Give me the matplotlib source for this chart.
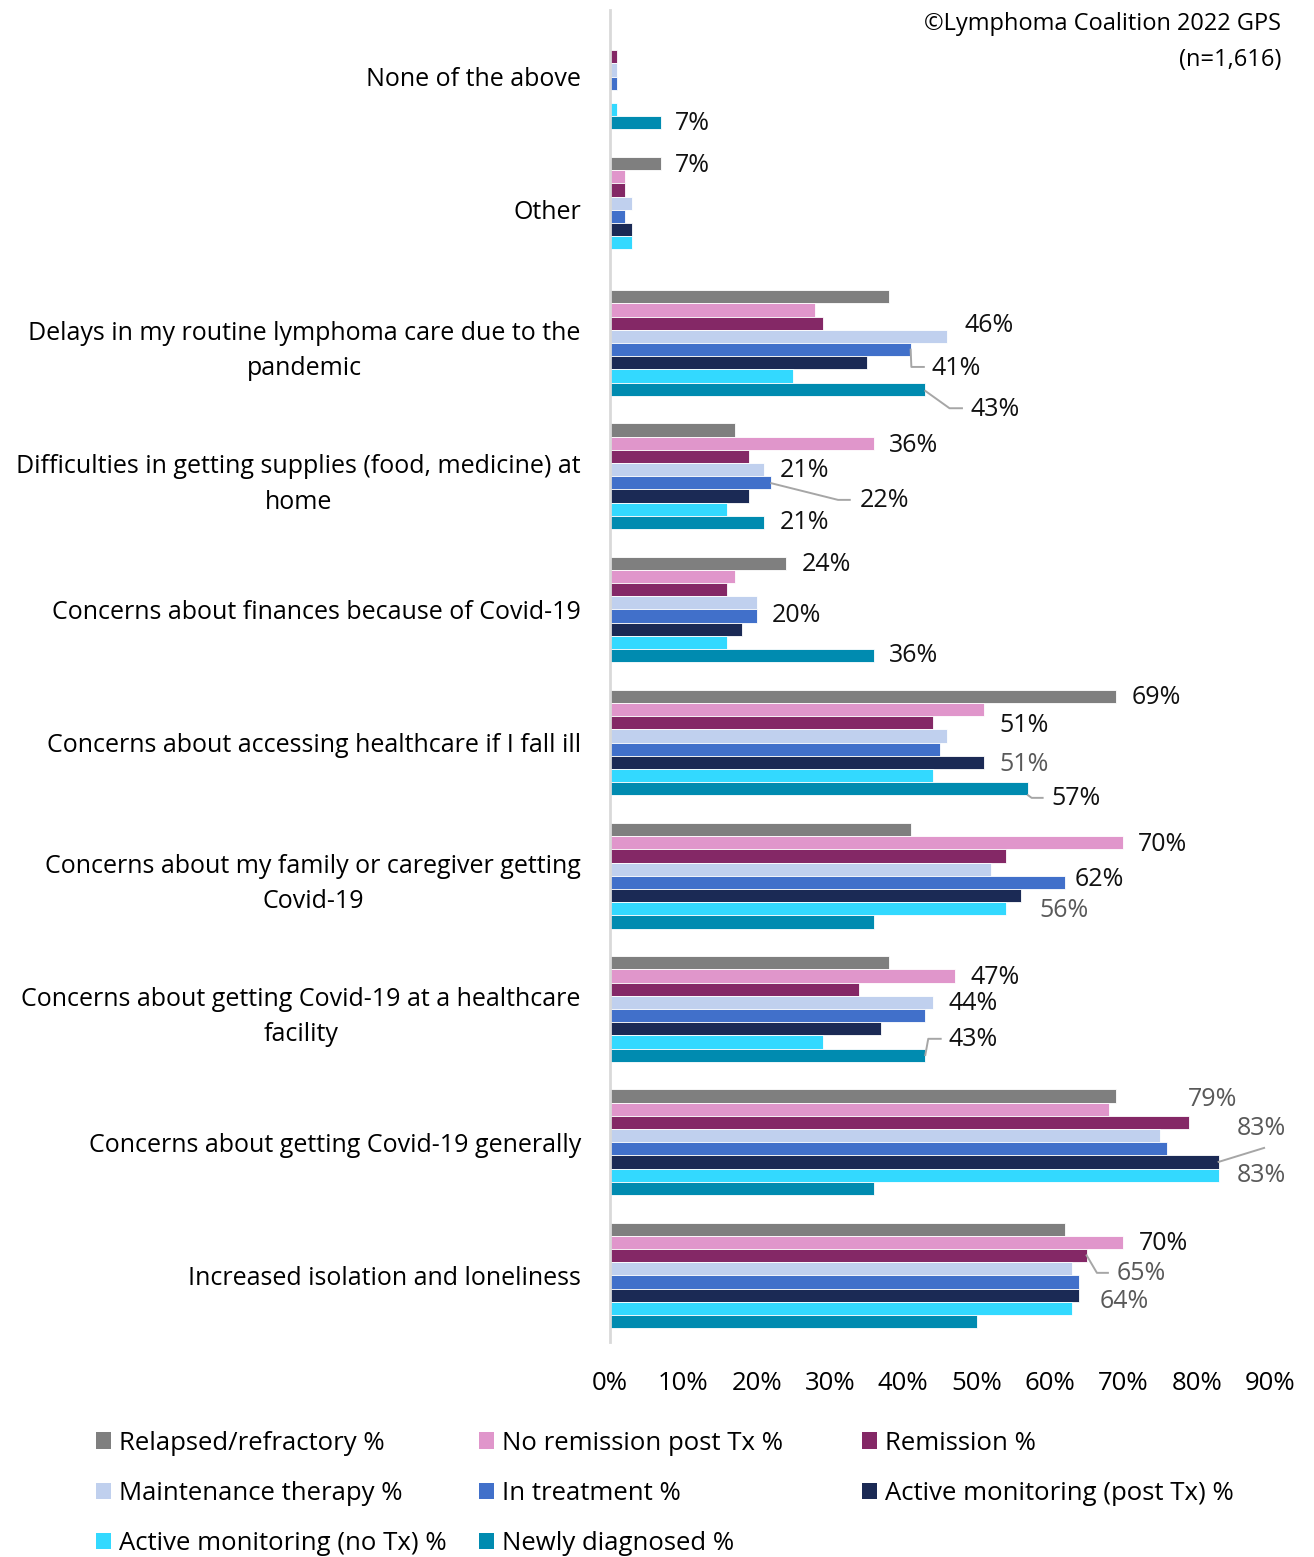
import matplotlib
matplotlib.use("Agg")
import matplotlib.pyplot as plt
from matplotlib.patches import Patch

plt.rcParams['font.family'] = ['Open Sans', 'DejaVu Sans']

categories = [
	"None of the above",
	"Other",
	"Delays in my routine lymphoma care due to the\npandemic",
	"Difficulties in getting supplies (food, medicine) at\nhome",
	"Concerns about finances because of Covid-19",
	"Concerns about accessing healthcare if I fall ill",
	"Concerns about my family or caregiver getting\nCovid-19",
	"Concerns about getting Covid-19 at a healthcare\nfacility",
	"Concerns about getting Covid-19 generally",
	"Increased isolation and loneliness",
]

seriesNames = [
	"Relapsed/refractory %",
	"No remission post Tx %",
	"Remission %",
	"Maintenance therapy %",
	"In treatment %",
	"Active monitoring (post Tx) %",
	"Active monitoring (no Tx) %",
	"Newly diagnosed %",
]

relapsed    = [0, 7, 38, 17, 24, 69, 41, 38, 69, 62]
noRemission = [0, 2, 28, 36, 17, 51, 70, 47, 68, 70]
remission   = [1, 2, 29, 19, 16, 44, 54, 34, 79, 65]
maintenance = [1, 3, 46, 21, 20, 46, 52, 44, 75, 63]
inTreatment = [1, 2, 41, 22, 20, 45, 62, 43, 76, 64]
activePost  = [0, 3, 35, 19, 18, 51, 56, 37, 83, 64]
activeNoTx  = [1, 3, 25, 16, 16, 44, 54, 29, 83, 63]
newlyDiag   = [7, 0, 43, 21, 36, 57, 36, 43, 36, 50]

series = [relapsed, noRemission, remission, maintenance, inTreatment, activePost, activeNoTx, newlyDiag]
colors = ['#7f7f7f', '#e096cb', '#842866', '#c0d0ee', '#4170ca', '#1b2a55', '#33d9ff', '#008bb0']

xticks = [0, 10, 20, 30, 40, 50, 60, 70, 80, 90]

# (category, series, label x, label y, text colour, leader line points)
dark = '#111111'
soft = '#595959'
labels = [
	(0, 7, 8.9, 0.352, dark, None),
	(1, 0, 8.9, 0.667, dark, None),
	(2, 3, 48.4, 1.867, dark, None),
	(2, 4, 43.9, 2.189, dark, [(41.0, 2.05), (41.1, 2.18), (42.8, 2.18)]),
	(2, 7, 49.1, 2.496, dark, [(43.0, 2.36), (46.3, 2.49), (48.0, 2.49)]),
	(3, 1, 38.1, 2.766, dark, None),
	(3, 3, 23.2, 2.961, dark, None),
	(3, 4, 34.0, 3.186, dark, [(22.0, 3.053), (31.1, 3.178), (32.7, 3.178)]),
	(3, 7, 23.2, 3.351, dark, None),
	(4, 0, 26.1, 3.666, dark, None),
	(4, 4, 22.1, 4.048, dark, None),
	(4, 7, 38.1, 4.348, dark, None),
	(5, 0, 71.1, 4.663, dark, None),
	(5, 1, 53.1, 4.873, dark, None),
	(5, 5, 53.1, 5.165, soft, None),
	(5, 7, 60.2, 5.420, dark, [(57.0, 5.395), (57.5, 5.415), (59.0, 5.415)]),
	(6, 1, 72.0, 5.765, dark, None),
	(6, 4, 63.3, 6.027, dark, None),
	(6, 5, 58.5, 6.259, soft, None),
	(7, 1, 49.1, 6.762, dark, None),
	(7, 3, 46.2, 6.957, dark, None),
	(7, 7, 46.2, 7.226, dark, [(43.0, 7.346), (43.4, 7.224), (45.1, 7.224)]),
	(8, 2, 78.8, 7.676, soft, None),
	(8, 5, 85.5, 7.894, soft, [(83.0, 8.148), (89.2, 8.043)]),
	(8, 6, 85.5, 8.253, soft, None),
	(9, 1, 72.1, 8.763, dark, None),
	(9, 2, 69.1, 8.988, soft, [(65.0, 8.85), (66.4, 8.981), (67.9, 8.981)]),
	(9, 5, 66.8, 9.198, soft, None),
]

fs = 18
barH = 0.099

fig = plt.figure(figsize=(13.14, 15.57), dpi=100)
ax = fig.add_axes([0.4642, 0.1381, 0.5023, 0.8555])

ypos = list(range(len(categories)))
for j in range(len(series)):
	offs = [y + (j - 3.5) * barH for y in ypos]
	ax.barh(offs, series[j], height=barH, color=colors[j], edgecolor='white', linewidth=0.6)

for cat, s, lx, ly, col, leader in labels:
	ax.text(lx, ly, str(series[s][cat]) + "%", fontsize=fs, color=col, va='center', ha='left')
	if leader:
		ax.plot([p[0] for p in leader], [p[1] for p in leader], color='#a6a6a6', lw=1.4, clip_on=False)

ax.set_xlim(0, 90)
ax.set_ylim(len(categories) - 0.5, -0.5)
ax.set_xticks(xticks)
ax.set_xticklabels([str(t) + "%" for t in xticks], fontsize=18.5)
ax.set_yticks(ypos)
ax.set_yticklabels(categories, fontsize=fs, multialignment='center', linespacing=1.55)
ax.tick_params(axis='x', length=0, pad=21)
ax.tick_params(axis='y', length=0, pad=21)

for sp in ['top', 'right', 'bottom']:
	ax.spines[sp].set_visible(False)
ax.spines['left'].set_color('#d9d9d9')
ax.spines['left'].set_linewidth(2)

fig.text(0.975, 0.9846, "\u00a9Lymphoma Coalition 2022 GPS", fontsize=17, ha='right', va='center')
fig.text(0.975, 0.9614, "(n=1,616)", fontsize=17, ha='right', va='center')

# legend laid out in three fixed columns, filled row by row
handles = [Patch(facecolor=c) for c in colors]
colX = [0.0731, 0.3645, 0.656]
for k in range(3):
	idx = list(range(k, len(series), 3))
	leg = fig.legend([handles[i] for i in idx], [seriesNames[i] for i in idx],
		loc='upper left', bbox_to_anchor=(colX[k], 0.0812), frameon=False,
		fontsize=18.5, handlelength=0.6, handleheight=0.6, handletextpad=0.28,
		labelspacing=0.98, borderpad=0, borderaxespad=0)

fig.savefig("out.png", dpi=100)
